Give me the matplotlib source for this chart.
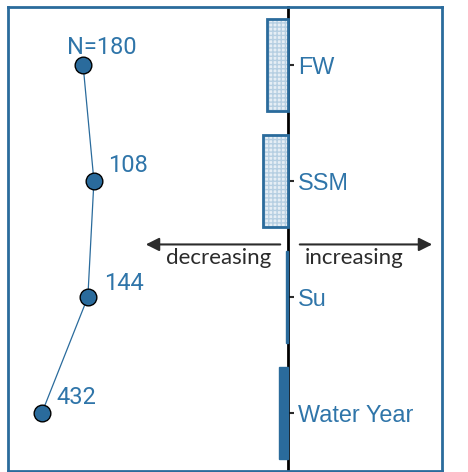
import numpy as np
import matplotlib
matplotlib.use("Agg")
import matplotlib.pyplot as plt

# seasons, top to bottom
seasons = ["FW", "SSM", "Su", "Water Year"]
# trend magnitude (negative = decreasing)
trend = [-0.21, -0.25, -0.02, -0.09]
significant = [False, False, True, True]
# sample sizes and the metric plotted on the left
n_obs = ["N=180", "108", "144", "432"]
metric = [0.173, 0.198, 0.184, 0.078]

blue = "#2a6b9c"
text_blue = "#2f75a9"
dark = "#2b2b2b"

plt.rcParams["hatch.linewidth"] = 1.0

fig = plt.figure(figsize=(4.68, 4.72), dpi=100)
ax = fig.add_axes([8 / 468, 1 / 472, 434 / 468, 464 / 472])
ypos = np.arange(len(seasons))

for y, v, sig in zip(ypos, trend, significant):
    if sig:
        ax.barh(y, v, height=0.8, color=blue, edgecolor=blue, linewidth=1, zorder=3)
    else:
        ax.barh(y, v, height=0.8, color="#e6eef5", edgecolor="#b6cfe2",
                hatch="++++", linewidth=0, zorder=3)
        ax.barh(y, v, height=0.8, color="none", edgecolor=blue, linewidth=2, zorder=4)

ax.set_xlim(-2.8, 1.54)
ax.set_ylim(3.5, -0.5)

for s in ["left", "top", "bottom"]:
    ax.spines[s].set_visible(False)
ax.spines["right"].set_position(("data", 0))
ax.spines["right"].set_color("black")
ax.spines["right"].set_linewidth(2)
ax.spines["right"].set_zorder(2)
ax.yaxis.tick_right()
ax.set_yticks(ypos)
ax.set_yticklabels(seasons)
ax.tick_params(axis="y", direction="out", length=4, width=1.5, color=dark, pad=3,
               labelsize=16.8, labelcolor=text_blue)
for lab in ax.get_yticklabels():
    lab.set_fontfamily("Liberation Sans")
ax.set_xticks([])

# direction arrows
arr = dict(arrowstyle="-|>", color=dark, lw=1.5, mutation_scale=20)
ax.annotate("", xy=(-1.45, 1.547), xytext=(-0.05, 1.547), arrowprops=arr)
ax.annotate("", xy=(1.47, 1.547), xytext=(0.09, 1.547), arrowprops=arr)
ax.text(-0.69, 1.66, "decreasing", ha="center", va="center", color=dark,
        fontsize=16, family="Lato")
ax.text(0.66, 1.66, "increasing", ha="center", va="center", color=dark,
        fontsize=16, family="Lato")

# left-hand profile
ax2 = ax.twiny()
ax2.plot(metric, ypos, "-o", color=blue, lw=0.9, ms=12, mfc=blue, mec="black", mew=1)
ax2.set_xlim(0, 1)
ax2.set_ylim(3.5, -0.5)
ax2.set_xticks([])
for s in ax2.spines.values():
    s.set_color(blue)
    s.set_linewidth(2)

offsets = [(-16, 17), (14, 16), (16, 14), (15, 15)]
for x, y, lab, off in zip(metric, ypos, n_obs, offsets):
    ax2.annotate(lab, (x, y), xytext=off, textcoords="offset pixels", ha="left",
                 va="center", color=text_blue, fontsize=17, family="Roboto")

fig.savefig("out.png", dpi=100)
